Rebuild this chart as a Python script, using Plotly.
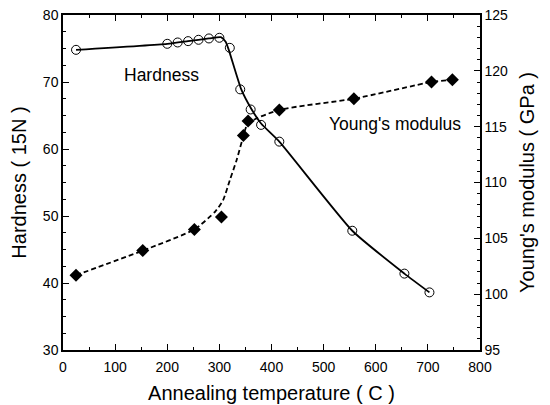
import plotly.graph_objects as go

# Hardness (open circles, left axis)
hard_T = [25, 200, 220, 240, 260, 280, 300, 320, 340, 360, 380, 415, 555, 655, 703]
hard_H = [74.8, 75.7, 75.9, 76.1, 76.3, 76.5, 76.6, 75.1, 68.9, 65.9, 63.6, 61.1, 47.8, 41.4, 38.6]
# Hardness drawn curve
hard_curve_T = [25, 200, 240, 280, 303, 312, 318, 342, 362, 380, 415, 555, 655, 703]
hard_curve_H = [74.8, 75.7, 76.1, 76.5, 76.7, 76.0, 74.8, 68.9, 65.9, 63.8, 61.1, 47.8, 41.4, 38.6]

# Young's modulus (filled diamonds, right axis)
young_T = [25, 153, 252, 304, 346, 355, 415, 558, 707, 747]
young_E = [101.7, 103.9, 105.8, 106.9, 114.2, 115.5, 116.5, 117.5, 119.0, 119.2]
# Young's modulus drawn dashed curve
young_curve_T = [25, 153, 252, 292, 307, 320, 333, 344, 355, 415, 558, 707, 747]
young_curve_E = [101.7, 103.9, 105.8, 107.4, 108.4, 110.2, 112.0, 113.8, 115.3, 116.5, 117.5, 119.0, 119.2]

FONT = "Liberation Sans, Arial, sans-serif"

fig = go.Figure()
fig.add_trace(go.Scatter(x=hard_curve_T, y=hard_curve_H, mode="lines",
                         line=dict(color="black", width=1.8, shape="spline", smoothing=0.5),
                         showlegend=False, hoverinfo="skip"))
fig.add_trace(go.Scatter(x=hard_T, y=hard_H, mode="markers",
                         marker=dict(symbol="circle-open", size=9, color="black", line=dict(width=1)),
                         showlegend=False))
fig.add_trace(go.Scatter(x=young_curve_T, y=young_curve_E, mode="lines", yaxis="y2",
                         line=dict(color="black", width=1.8, dash="5px,3px", shape="spline", smoothing=0.6),
                         showlegend=False, hoverinfo="skip"))
fig.add_trace(go.Scatter(x=young_T, y=young_E, mode="markers", yaxis="y2",
                         marker=dict(symbol="diamond", size=10, color="black"),
                         showlegend=False))

fig.add_annotation(x=189, y=71.1, xref="x", yref="y", text="Hardness", showarrow=False,
                   font=dict(family=FONT, size=17.5, color="black"))
fig.add_annotation(x=637, y=63.7, xref="x", yref="y", text="Young's modulus", showarrow=False,
                   font=dict(family=FONT, size=17.5, color="black"))

axis_common = dict(showgrid=False, zeroline=False, showline=True, linecolor="black", linewidth=1.5,
                   ticks="inside", ticklen=6, tickwidth=1.2, tickcolor="black", automargin=False,
                   tickfont=dict(family=FONT, size=14, color="black"))

fig.update_layout(
    width=550, height=405,
    margin=dict(l=63, r=70, t=15, b=55),
    paper_bgcolor="white", plot_bgcolor="white",
    font=dict(family=FONT, color="black"),
    xaxis=dict(range=[0, 800], dtick=100, mirror="ticks", ticklabelstandoff=3,
               minor=dict(dtick=50, ticks="inside", ticklen=3, tickcolor="black"),
               title=dict(text="Annealing temperature ( C )", font=dict(family=FONT, size=20), standoff=12),
               **axis_common),
    yaxis=dict(range=[30, 80], dtick=10,
               minor=dict(dtick=2.5, ticks="inside", ticklen=3, tickcolor="black"),
               title=dict(text="Hardness ( 15N )", font=dict(family=FONT, size=20), standoff=11),
               **axis_common),
    yaxis2=dict(range=[95, 125], dtick=5, overlaying="y", side="right",
                minor=dict(dtick=1, ticks="inside", ticklen=3, tickcolor="black"),
                title=dict(text="Young's modulus ( GPa )", font=dict(family=FONT, size=20), standoff=13),
                **axis_common),
)

fig.write_html("out.html")
